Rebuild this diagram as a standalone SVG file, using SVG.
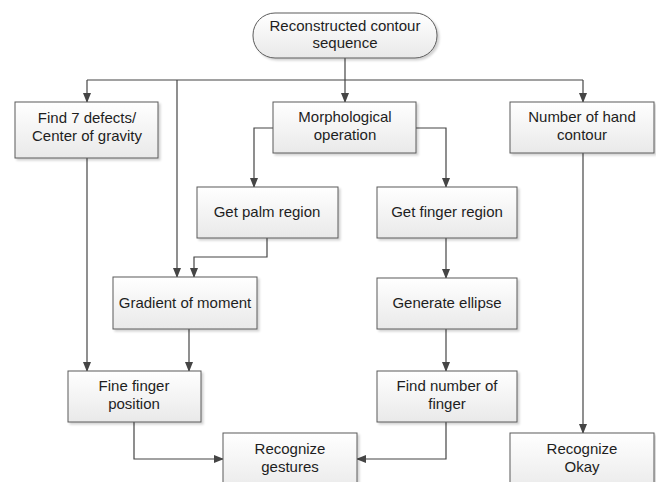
<svg xmlns="http://www.w3.org/2000/svg" width="656" height="482" viewBox="0 0 656 482">
<style>
  .box { fill: url(#g); stroke: #5a5a5a; stroke-width: 1; filter: url(#sh); }
  .t { font-family: "Liberation Sans", Arial, sans-serif; font-size: 15px; fill: #1e1e1e; text-anchor: middle; }
  .c { fill: none; stroke: #454545; stroke-width: 1.2; }
  .a { marker-end: url(#ar); }
</style>
<defs>
  <linearGradient id="g" x1="0" y1="0" x2="0" y2="1">
    <stop offset="0" stop-color="#ffffff"/>
    <stop offset="1" stop-color="#e9e9e9"/>
  </linearGradient>
  <filter id="sh" x="-10%" y="-10%" width="130%" height="140%">
    <feDropShadow dx="2" dy="2" stdDeviation="1" flood-color="#000" flood-opacity="0.18"/>
  </filter>
  <marker id="ar" markerWidth="10" markerHeight="8" refX="9" refY="4" orient="auto" markerUnits="userSpaceOnUse">
    <path d="M0,0 L10,4 L0,8 Z" fill="#454545"/>
  </marker>
</defs>
<rect width="656" height="482" fill="#fff"/>

<g id="connectors">
  <path class="c" d="M345,58 V80"/>
  <path class="c" d="M87,80 H583"/>
  <path class="c a" d="M345,80 V102"/>
  <path class="c a" d="M87,80 V102"/>
  <path class="c a" d="M583,80 V102"/>
  <path class="c a" d="M177,80 V277"/>
  <path class="c a" d="M273,128 H254 V187"/>
  <path class="c a" d="M416,128 H446 V187"/>
  <path class="c a" d="M267,238 V257 H194 V277"/>
  <path class="c a" d="M446,238 V278"/>
  <path class="c a" d="M446,329 V371"/>
  <path class="c a" d="M87,158 V371"/>
  <path class="c a" d="M189,329 V371"/>
  <path class="c a" d="M134,422 V459 H223"/>
  <path class="c a" d="M446,422 V459 H357"/>
  <path class="c a" d="M583,153 V433"/>
</g>

<g id="n-start">
  <rect class="box" x="253" y="13" width="184" height="45" rx="22" ry="22"/>
  <text class="t" x="345" y="31">Reconstructed contour</text>
  <text class="t" x="345" y="48">sequence</text>
</g>
<g id="n-defects">
  <rect class="box" x="15" y="102" width="143" height="56"/>
  <text class="t" x="87" y="123">Find 7 defects/</text>
  <text class="t" x="87" y="141">Center of gravity</text>
</g>
<g id="n-morph">
  <rect class="box" x="273" y="102" width="143" height="51"/>
  <text class="t" x="345" y="122">Morphological</text>
  <text class="t" x="345" y="140">operation</text>
</g>
<g id="n-number">
  <rect class="box" x="510" y="102" width="144" height="51"/>
  <text class="t" x="582" y="122">Number of hand</text>
  <text class="t" x="582" y="140">contour</text>
</g>
<g id="n-palm">
  <rect class="box" x="197" y="187" width="141" height="51"/>
  <text class="t" x="267" y="217">Get palm region</text>
</g>
<g id="n-finger">
  <rect class="box" x="377" y="187" width="140" height="51"/>
  <text class="t" x="447" y="217">Get finger region</text>
</g>
<g id="n-gradient">
  <rect class="box" x="113" y="277" width="144" height="52"/>
  <text class="t" x="185" y="308">Gradient of moment</text>
</g>
<g id="n-ellipse">
  <rect class="box" x="377" y="278" width="140" height="51"/>
  <text class="t" x="447" y="308">Generate ellipse</text>
</g>
<g id="n-fine">
  <rect class="box" x="68" y="371" width="133" height="51"/>
  <text class="t" x="134" y="391">Fine finger</text>
  <text class="t" x="134" y="409">position</text>
</g>
<g id="n-findnum">
  <rect class="box" x="377" y="371" width="140" height="51"/>
  <text class="t" x="447" y="391">Find number of</text>
  <text class="t" x="447" y="409">finger</text>
</g>
<g id="n-gestures">
  <rect class="box" x="223" y="433" width="134" height="60"/>
  <text class="t" x="290" y="454">Recognize</text>
  <text class="t" x="290" y="472">gestures</text>
</g>
<g id="n-okay">
  <rect class="box" x="510" y="433" width="144" height="60"/>
  <text class="t" x="582" y="454">Recognize</text>
  <text class="t" x="582" y="472">Okay</text>
</g>
</svg>
